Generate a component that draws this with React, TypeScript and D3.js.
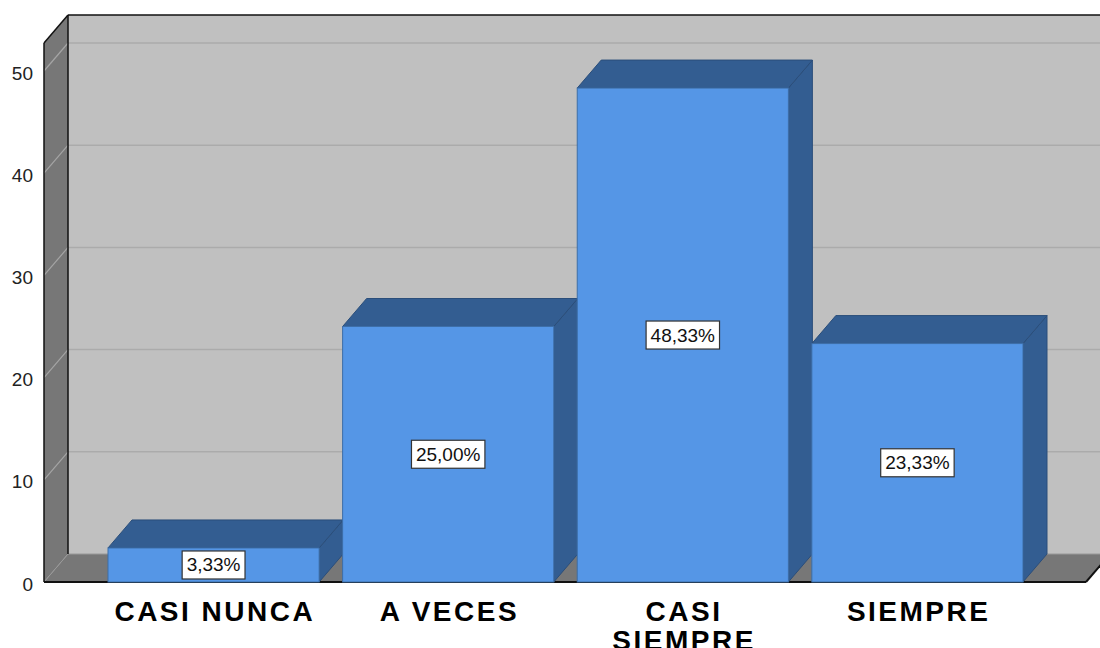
import React from "react";
import * as d3 from "d3";

const categories: string[][] = [["CASI NUNCA"], ["A VECES"], ["CASI", "SIEMPRE"], ["SIEMPRE"]];
const categoryKeys = ["CASI NUNCA", "A VECES", "CASI SIEMPRE", "SIEMPRE"];
const percents = [3.33, 25.0, 48.33, 23.33];
const yTicks = [0, 10, 20, 30, 40, 50];

const W = 1100;
const H = 648;
const DX = 24;
const DY = -28;
const FRONT_LEFT = 44;
const FRONT_RIGHT = 1086;
const TOP_VALUE = 52.75;

export default function App() {
  const y = d3.scaleLinear().domain([0, 50]).range([582, 71]);
  const x = d3.scaleBand<string>().domain(categoryKeys).range([108, 1023]).paddingInner(0.1).paddingOuter(0);
  const bw = x.bandwidth();
  const y0 = y(0);
  const yTop = y(TOP_VALUE);
  const fmt = (v: number) => d3.format(".2f")(v).replace(".", ",") + "%";
  const charW = (s: string) =>
    Array.from(s).reduce((a, c) => a + (c === "," ? 0.278 : c === "%" ? 0.889 : 0.556), 0);
  const fontNum = 19;

  const backWall = `M${FRONT_LEFT + DX},${yTop + DY} L${W + 10},${yTop + DY} L${W + 10},${y0 + DY} L${FRONT_LEFT + DX},${y0 + DY} Z`;
  const leftWall = `M${FRONT_LEFT},${yTop} L${FRONT_LEFT + DX},${yTop + DY} L${FRONT_LEFT + DX},${y0 + DY} L${FRONT_LEFT},${y0} Z`;
  const floor = `M${FRONT_LEFT},${y0} L${FRONT_LEFT + DX},${y0 + DY} L${FRONT_RIGHT + DX},${y0 + DY} L${FRONT_RIGHT},${y0} Z`;

  return (
    <svg width={W} height={H} style={{ position: "absolute", left: 0, top: 0 }} fontFamily="'Liberation Sans', Arial, sans-serif">
      <rect x={0} y={0} width={W} height={H} fill="#ffffff" />
      <path d={backWall} fill="#c0c0c0" />
      <path d={floor} fill="#777777" />
      <path d={leftWall} fill="#777777" />
      {yTicks.filter((t) => t > 0).map((t) => (
        <g key={t}>
          <line x1={FRONT_LEFT + DX} x2={W + 10} y1={y(t) + DY} y2={y(t) + DY} stroke="#ababab" strokeWidth={1.5} />
          <line x1={FRONT_LEFT + DX} x2={FRONT_LEFT} y1={y(t) + DY} y2={y(t)} stroke="#a5a5a5" strokeWidth={1.2} />
        </g>
      ))}
      <line x1={FRONT_LEFT + DX} x2={FRONT_LEFT} y1={y0 + DY} y2={y0} stroke="#9a9a9a" strokeWidth={1} />
      <line x1={FRONT_LEFT + DX} x2={W + 10} y1={y0 + DY} y2={y0 + DY} stroke="#999999" strokeWidth={1} />
      {/* wall outlines */}
      <line x1={FRONT_LEFT + DX} x2={W + 10} y1={yTop + DY} y2={yTop + DY} stroke="#111" strokeWidth={1.5} />
      <line x1={FRONT_LEFT} x2={FRONT_LEFT + DX} y1={yTop} y2={yTop + DY} stroke="#111" strokeWidth={1.5} />
      <line x1={FRONT_LEFT + DX} x2={FRONT_LEFT + DX} y1={yTop + DY} y2={y0 + DY} stroke="#111" strokeWidth={1.5} />
      <line x1={FRONT_LEFT} x2={FRONT_LEFT} y1={yTop} y2={y0} stroke="#111" strokeWidth={1.5} />
      <line x1={FRONT_LEFT} x2={FRONT_RIGHT} y1={y0} y2={y0} stroke="#111" strokeWidth={2} />
      <line x1={FRONT_RIGHT} x2={FRONT_RIGHT + DX} y1={y0} y2={y0 + DY} stroke="#111" strokeWidth={2} />

      {/* bars */}
      {categoryKeys.map((k, i) => {
        const x0 = x(k)!;
        const x1 = x0 + bw;
        const yt = y(percents[i]);
        const top = `M${x0},${yt} L${x0 + DX},${yt + DY} L${x1 + DX},${yt + DY} L${x1},${yt} Z`;
        const side = `M${x1},${yt} L${x1 + DX},${yt + DY} L${x1 + DX},${y0 + DY} L${x1},${y0} Z`;
        return (
          <g key={k}>
            <path d={side} fill="#335d91" stroke="#2b4e7a" strokeWidth={1} />
            <path d={top} fill="#335d91" stroke="#2b4e7a" strokeWidth={1} />
            <rect x={x0} y={yt} width={bw} height={y0 - yt} fill="#5596e6" stroke="#3d6ea8" strokeWidth={1} />
          </g>
        );
      })}

      {/* value labels */}
      {categoryKeys.map((k, i) => {
        const cx = x(k)! + bw / 2;
        const cy = (y(percents[i]) + y0) / 2;
        const label = fmt(percents[i]);
        const tw = charW(label) * fontNum;
        const bwid = tw + 9;
        const bh = 28;
        return (
          <g key={k + "-lbl"}>
            <rect x={cx - bwid / 2} y={cy - bh / 2} width={bwid} height={bh} fill="#ffffff" stroke="#333" strokeWidth={1.2} />
            <text x={cx} y={cy} textAnchor="middle" dominantBaseline="central" fontSize={fontNum} fill="#111">
              {label}
            </text>
          </g>
        );
      })}

      {/* y tick labels */}
      {yTicks.map((t) => (
        <text key={"t" + t} x={33} y={y(t) + 2} textAnchor="end" dominantBaseline="central" fontSize={fontNum} fill="#222">
          {t}
        </text>
      ))}

      {/* category labels */}
      {categoryKeys.map((k, i) => {
        const cx = x(k)! + bw / 2 + 1.25;
        return (
          <text key={k + "-cat"} x={cx} y={621} textAnchor="middle" fontSize={28} fontWeight="bold" letterSpacing={2.5} fill="#000">
            {categories[i].map((line, j) => (
              <tspan key={j} x={cx} dy={j === 0 ? 0 : 29}>
                {line}
              </tspan>
            ))}
          </text>
        );
      })}
    </svg>
  );
}
